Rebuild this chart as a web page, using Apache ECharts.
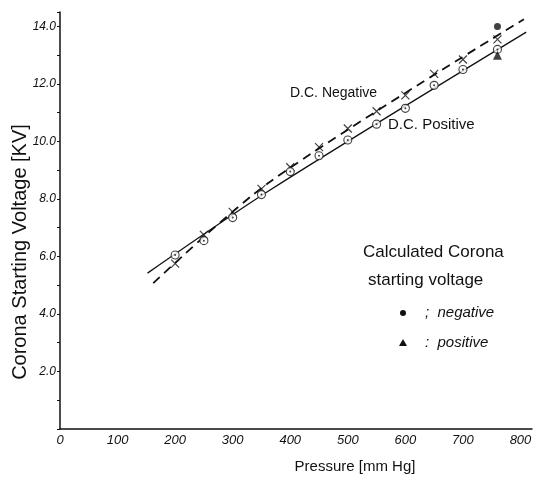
<!DOCTYPE html>
<html lang="en">
<head>
    <meta charset="utf-8">
    <title>Corona Starting Voltage vs Pressure</title>
    <script src="https://cdn.jsdelivr.net/npm/echarts@6/dist/echarts.min.js"></script>
    <style>
        html, body { margin: 0; padding: 0; background: #fff; }
        #main { width: 537px; height: 477px; }
    </style>
</head>
<body>
<div id="main"></div>
<script type="text/javascript">
    // measured points (x = pressure mmHg, y = kV)
    //------------------------------------------
    var pressure = [200, 250, 300, 350, 400, 450, 500, 550, 600, 650, 700, 760];
    var negVolt = [5.75, 6.75, 7.55, 8.35, 9.1, 9.8, 10.45, 11.05, 11.6, 12.35, 12.85, 13.55];
    var posVolt = [6.05, 6.55, 7.35, 8.15, 8.95, 9.5, 10.05, 10.6, 11.15, 11.95, 12.5, 13.2];

    // calculated values at 760 mmHg
    var calcP = [760];
    var calcNeg = [14.0];
    var calcPos = [13.0];

    // hand drawn curves
    var negCurveP = [162, 365, 806];
    var negCurveV = [5.07, 8.6, 14.25];
    var posCurveP = [152, 365, 810];
    var posCurveV = [5.42, 8.31, 13.8];

    var xTicks = [0, 100, 200, 300, 400, 500, 600, 700, 800];
    var yTicks = [2, 4, 6, 8, 10, 12, 14];

    function pairs(xs, ys) {
        var out = [];
        for (var i = 0; i < xs.length; i++) out.push([xs[i], ys[i]]);
        return out;
    }

    var ink = '#111';
    var hand = '"Liberation Sans", "DejaVu Sans", sans-serif';
    var crossPath = 'path://M0,0L10,10M10,0L0,10';

    var chart = echarts.init(document.getElementById('main'));
    var option = {
        backgroundColor: '#fff',
        animation: false,
        grid: {
            left: 60,
            right: 5,
            top: 12,
            bottom: 48
        },
        xAxis: {
            type: 'value',
            min: 0,
            max: 820,
            interval: 100,
            splitLine: { show: false },
            axisTick: { show: false },
            axisLine: { onZero: false, lineStyle: { color: ink, width: 1.5 } },
            axisLabel: {
                color: ink,
                fontStyle: 'italic',
                fontFamily: hand,
                fontSize: 13,
                margin: 5,
                formatter: function (v) {
                    return xTicks.indexOf(v) >= 0 ? String(v) : '';
                }
            }
        },
        yAxis: {
            type: 'value',
            min: 0,
            max: 14.5,
            interval: 1,
            splitLine: { show: false },
            axisLine: { show: true, lineStyle: { color: ink, width: 1.5 } },
            axisTick: { show: true, length: 3, lineStyle: { color: ink } },
            axisLabel: {
                color: ink,
                fontStyle: 'italic',
                fontFamily: hand,
                fontSize: 12,
                margin: 4,
                formatter: function (v) {
                    return yTicks.indexOf(v) >= 0 ? v.toFixed(1) : '';
                }
            }
        },
        series: [
            {
                name: 'D.C. Negative curve',
                type: 'line',
                data: pairs(negCurveP, negCurveV),
                showSymbol: false,
                smooth: 0.3,
                lineStyle: { color: ink, width: 1.8, type: [9, 6] },
                z: 2
            },
            {
                name: 'D.C. Positive curve',
                type: 'line',
                data: pairs(posCurveP, posCurveV),
                showSymbol: false,
                smooth: 0.3,
                lineStyle: { color: ink, width: 1.3 },
                z: 2
            },
            {
                name: 'D.C. Negative',
                type: 'scatter',
                data: pairs(pressure, negVolt),
                symbol: crossPath,
                symbolSize: 8,
                itemStyle: { color: 'transparent', borderColor: ink, borderWidth: 1.2 },
                z: 3
            },
            {
                name: 'D.C. Positive',
                type: 'scatter',
                data: pairs(pressure, posVolt),
                symbol: 'circle',
                symbolSize: 8,
                itemStyle: { color: '#fff', borderColor: ink, borderWidth: 1.1 },
                z: 3
            },
            {
                name: 'D.C. Positive centre',
                type: 'scatter',
                data: pairs(pressure, posVolt),
                symbol: 'circle',
                symbolSize: 2,
                itemStyle: { color: ink },
                z: 4
            },
            {
                name: 'Calculated negative',
                type: 'scatter',
                data: pairs(calcP, calcNeg),
                symbol: 'circle',
                symbolSize: 7,
                itemStyle: { color: ink },
                z: 4
            },
            {
                name: 'Calculated positive',
                type: 'scatter',
                data: pairs(calcP, calcPos),
                symbol: 'triangle',
                symbolSize: 9,
                itemStyle: { color: ink },
                z: 4
            }
        ],
        graphic: [
            {
                type: 'text', x: 20, y: 252, rotation: Math.PI / 2,
                style: {
                    text: 'Corona Starting Voltage [KV]', fill: ink,
                    font: '20px ' + hand, textAlign: 'center', textVerticalAlign: 'middle'
                }
            },
            {
                type: 'text', x: 355, y: 467,
                style: {
                    text: 'Pressure [mm Hg]', fill: ink,
                    font: '15px ' + hand, textAlign: 'center', textVerticalAlign: 'middle'
                }
            },
            {
                type: 'text', x: 290, y: 93,
                style: { text: 'D.C. Negative', fill: ink, font: '14px ' + hand, textVerticalAlign: 'middle' }
            },
            {
                type: 'text', x: 388, y: 125,
                style: { text: 'D.C. Positive', fill: ink, font: '15px ' + hand, textVerticalAlign: 'middle' }
            },
            {
                type: 'text', x: 363, y: 252,
                style: { text: 'Calculated Corona', fill: ink, font: '17px ' + hand, textVerticalAlign: 'middle' }
            },
            {
                type: 'text', x: 368, y: 280,
                style: { text: 'starting voltage', fill: ink, font: '17px ' + hand, textVerticalAlign: 'middle' }
            },
            {
                type: 'circle', shape: { cx: 403, cy: 313, r: 3 },
                style: { fill: ink }
            },
            {
                type: 'text', x: 425, y: 313,
                style: { text: ';  negative', fill: ink, font: 'italic 15px ' + hand, textVerticalAlign: 'middle' }
            },
            {
                type: 'polygon', shape: { points: [[399, 346], [407, 346], [403, 339]] },
                style: { fill: ink }
            },
            {
                type: 'text', x: 425, y: 343,
                style: { text: ':  positive', fill: ink, font: 'italic 15px ' + hand, textVerticalAlign: 'middle' }
            }
        ]
    };
    chart.setOption(option);
</script>
</body>
</html>
